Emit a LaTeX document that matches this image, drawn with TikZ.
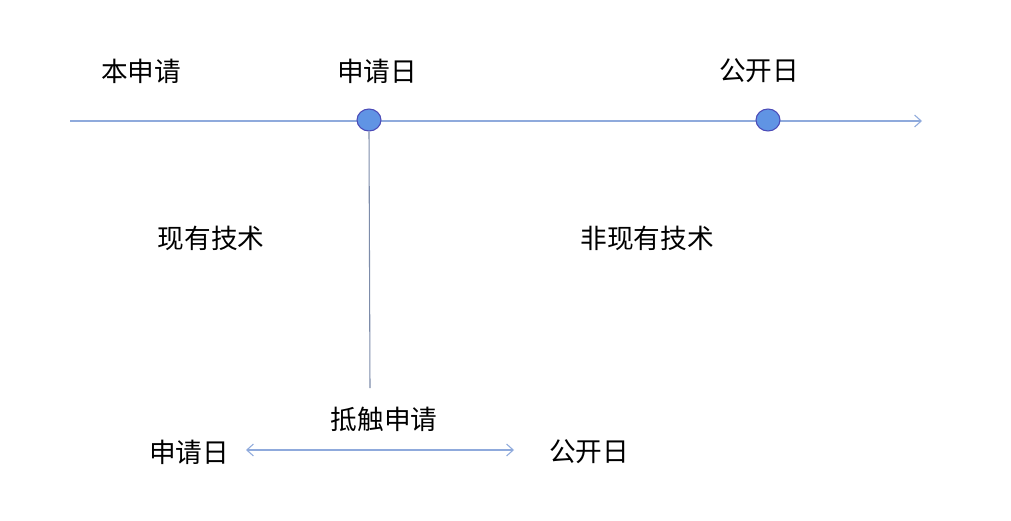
\documentclass[tikz,border=0pt]{standalone}
\usepackage{fontspec}
\setmainfont{Noto Sans CJK SC}
\usetikzlibrary{arrows.meta,shapes.geometric}

\begin{document}
\begin{tikzpicture}[
  x=0.75pt, y=-0.75pt,
  label/.style={font=\fontsize{20}{23}\selectfont, text=black, inner sep=0pt},
  datedot/.style={ellipse, draw=blue!60!black!70, fill=dotblue, line width=0.8pt,
    minimum width=18pt, minimum height=16.5pt, inner sep=0pt},
  axisline/.style={draw=lineblue, line width=0.8pt},
  tip/.style={-{Straight Barb[length=5pt,width=9pt]}}
]
\definecolor{lineblue}{RGB}{143,170,220}
\definecolor{dotblue}{RGB}{96,148,228}
\definecolor{stemgray}{RGB}{125,140,170}
\useasboundingbox (0,0) rectangle (1011,521);

% time axis
\coordinate (axisstart) at (70,121);
\coordinate (axisend) at (922,121);
\draw[axisline, tip] (axisstart) -- (axisend);
\node[datedot] (appdot) at (369,120) {};
\node[datedot] (pubdot) at (768,120) {};

% labels over the axis
\node[label] (thisapp) at (141,71) {本申请};
\node[label] (appdate) at (377,71) {申请日};
\node[label] (pubdate) at (759,71) {公开日};

% split
\coordinate (stemend) at (370,388);
\draw[stemgray, line width=0.8pt] (appdot.south) -- (stemend);
\node[label] (prior) at (211,238) {现有技术};
\node[label] (nonprior) at (647,238) {非现有技术};

% conflicting application
\node[label] (conflict) at (384,419) {抵触申请};
\node[label] (lowapp) at (189,452) {申请日};
\node[label] (lowpub) at (589,452) {公开日};
\coordinate (lowstart) at (246,450);
\coordinate (lowend) at (514,450);
\draw[axisline, {Straight Barb[length=5pt,width=9pt]}-{Straight Barb[length=5pt,width=9pt]}] (lowstart) -- (lowend);
\end{tikzpicture}
\end{document}
